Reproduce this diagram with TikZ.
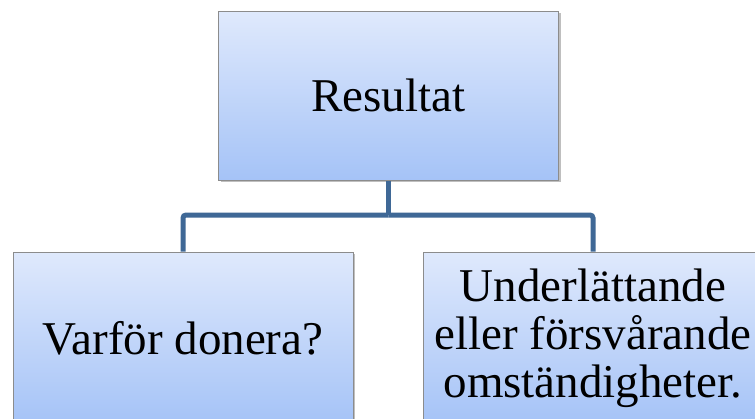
\documentclass[tikz,border=0pt]{standalone}
\usepackage{fontspec}
\newfontfamily\tnr{Liberation Serif}
\usetikzlibrary{shadows}
\definecolor{boxtop}{HTML}{DFE9FC}
\definecolor{boxbot}{HTML}{A5C3F7}
\definecolor{boxline}{HTML}{8C8C8C}
\definecolor{conn}{HTML}{3F6896}
\tikzset{
  hbox/.style={draw=boxline, line width=1pt, top color=boxtop, bottom color=boxbot,
    minimum width=340pt, minimum height=169pt, inner sep=0pt, align=center,
    font=\tnr\fontsize{47}{48}\selectfont,
    drop shadow={shadow xshift=2pt, shadow yshift=-2pt, opacity=0.25, fill=black}},
  connector/.style={draw=conn, line width=5pt, rounded corners=3pt}
}
\begin{document}
\begin{tikzpicture}[x=1pt,y=-1pt]
\useasboundingbox (0,0) rectangle (755,418);
\fill[white] (0,0) rectangle (755,418);
\clip (0,0) rectangle (755,418);
\node[hbox] (top) at (388.5,95.5) {Resultat};
\node[hbox, minimum height=172pt] (left) at (183,338) {Varför donera?};
\node[hbox, minimum height=172pt] (right) at (593,338) {Underlättande\\eller försvårande\\omständigheter.};
\coordinate (j) at (388.5,215);
\draw[connector] (top.south) -- (j);
\draw[connector] (j) -| (left.north);
\draw[connector] (j) -| (right.north);
\end{tikzpicture}
\end{document}
